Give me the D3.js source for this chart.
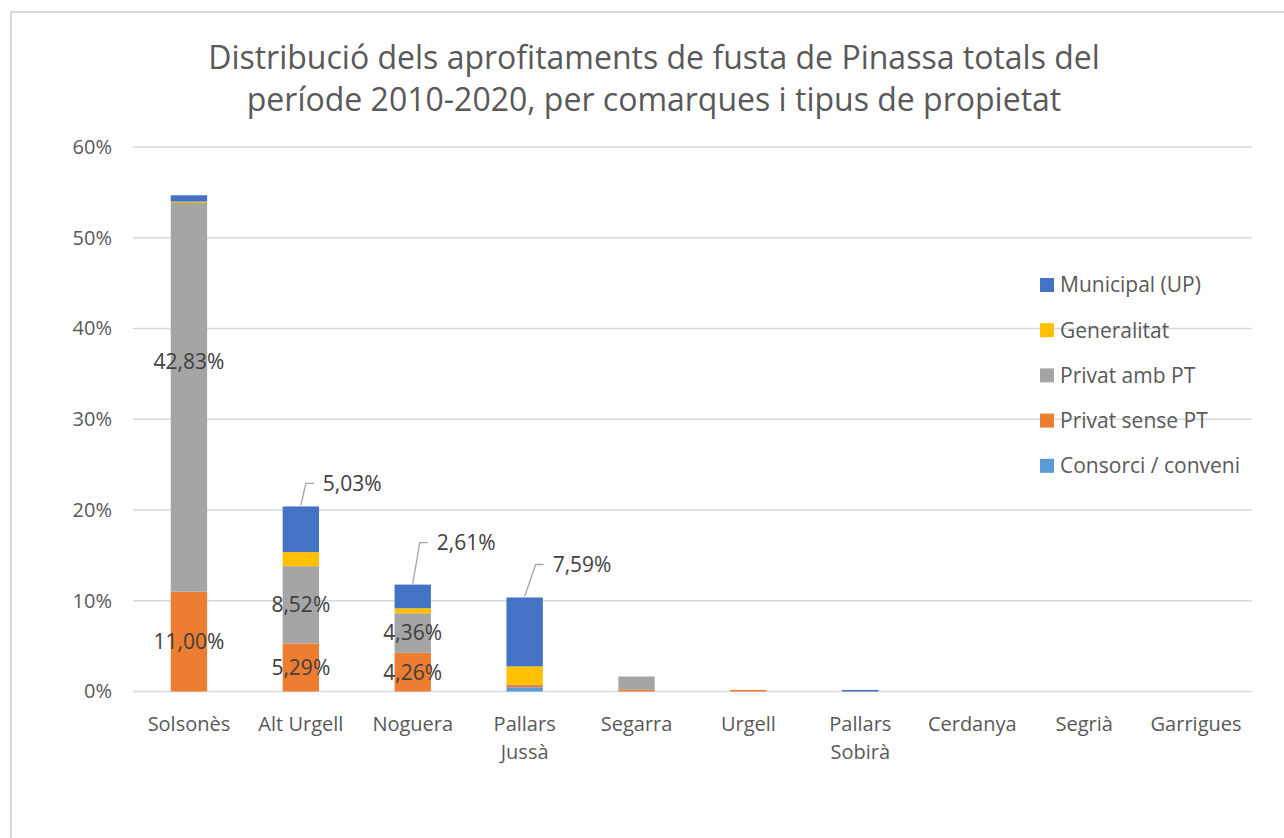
<!DOCTYPE html>
<html>
<head>
<meta charset="utf-8">
<script src="https://cdn.jsdelivr.net/npm/d3@7"></script>
<style>
  body { margin: 0; background: #fff; }
  text { font-family: "Open Sans", "Noto Sans", sans-serif; }
</style>
</head>
<body>
<svg id="chart" width="1284" height="838"></svg>
<script>
// comarques (x axis)
const categories = ["Solsonès", "Alt Urgell", "Noguera", "Pallars Jussà", "Segarra",
    "Urgell", "Pallars Sobirà", "Cerdanya", "Segrià", "Garrigues"];

// series, bottom to top of each stack (% of total)
const seriesNames = ["Consorci / conveni", "Privat sense PT", "Privat amb PT", "Generalitat", "Municipal (UP)"];
const consorci    = [0,     0,    0,    0.47, 0,    0,    0,    0, 0, 0];
const privatSense = [11.00, 5.29, 4.26, 0.30, 0.20, 0.17, 0,    0, 0, 0];
const privatAmb   = [42.83, 8.52, 4.36, 0,    1.45, 0,    0,    0, 0, 0];
const generalitat = [0.15,  1.55, 0.55, 2.00, 0,    0,    0,    0, 0, 0];
const municipal   = [0.70,  5.03, 2.61, 7.59, 0,    0,    0.17, 0, 0, 0];

const yTicks = [0, 10, 20, 30, 40, 50, 60];
const legendOrder = ["Municipal (UP)", "Generalitat", "Privat amb PT", "Privat sense PT", "Consorci / conveni"];

const titleLines = ["Distribució dels aprofitaments de fusta de Pinassa totals del",
    "període 2010-2020, per comarques i tipus de propietat"];

const colors = {
    "Consorci / conveni": "#5B9BD5",
    "Privat sense PT": "#ED7D31",
    "Privat amb PT": "#A5A5A5",
    "Generalitat": "#FFC000",
    "Municipal (UP)": "#4472C4"
};

// which series get labels on which bars
const labelled = {
    "Privat sense PT": [0, 1, 2],
    "Privat amb PT": [0, 1, 2],
    "Municipal (UP)": [1, 2, 3]
};

let seriesValues = [consorci, privatSense, privatAmb, generalitat, municipal];

let rows = categories.map((c, i) => {
    let r = {cat: c};
    seriesNames.forEach((s, j) => r[s] = seriesValues[j][i]);
    return r;
});

let svg = d3.select("#chart");
const textCol = "#595959";

// chart frame
svg.append("rect")
    .attr("x", 11).attr("y", 12)
    .attr("width", 1300).attr("height", 850)
    .attr("fill", "none")
    .attr("stroke", "#d9d9d9")
    .attr("stroke-width", 2);

let x = d3.scaleBand().domain(categories).range([133, 1252]);
let y = d3.scaleLinear().domain([0, 60]).range([691.5, 147]);
let barW = x.bandwidth() * 0.325;

// title
svg.append("g").selectAll("text")
    .data(titleLines).enter().append("text")
    .attr("x", 654)
    .attr("y", (d, i) => 69 + i * 42)
    .attr("text-anchor", "middle")
    .attr("font-size", 32)
    .attr("fill", textCol)
    .text(d => d);

// gridlines
svg.append("g").selectAll("line")
    .data(yTicks).enter().append("line")
    .attr("x1", 133).attr("x2", 1252)
    .attr("y1", d => y(d)).attr("y2", d => y(d))
    .attr("stroke", "#d9d9d9")
    .attr("stroke-width", 1.5);

// y axis
let yAxis = d3.axisLeft(y).tickValues(yTicks).tickSize(0).tickPadding(0)
    .tickFormat(d => d + "%");
let yg = svg.append("g").attr("transform", "translate(112,0)").call(yAxis);
yg.select(".domain").remove();
yg.selectAll("text").attr("font-size", 20).attr("fill", textCol)
    .attr("font-family", "'Open Sans', sans-serif");

// stacked bars
let stack = d3.stack().keys(seriesNames);
let stacked = stack(rows);

let layers = svg.append("g").selectAll("g")
    .data(stacked).enter().append("g")
    .attr("fill", d => colors[d.key]);

layers.selectAll("rect")
    .data(d => d).enter().append("rect")
    .attr("x", d => x(d.data.cat) + (x.bandwidth() - barW) / 2)
    .attr("y", d => y(d[1]))
    .attr("width", barW)
    .attr("height", d => y(d[0]) - y(d[1]));

// x axis labels (wrapped to the band)
let xg = svg.append("g");
categories.forEach(c => {
    let words = c.split(" ");
    let lines = c.length > 11 ? words : [c];
    let t = xg.append("text")
        .attr("x", x(c) + x.bandwidth() / 2)
        .attr("y", 731)
        .attr("text-anchor", "middle")
        .attr("font-size", 20)
        .attr("fill", textCol);
    lines.forEach((l, k) => {
        t.append("tspan")
            .attr("x", x(c) + x.bandwidth() / 2)
            .attr("dy", k === 0 ? 0 : 28)
            .text(l);
    });
});

// data labels
let fmt = v => v.toFixed(2).replace(".", ",") + "%";
let labelG = svg.append("g");

stacked.forEach(layer => {
    let idx = labelled[layer.key];
    if (!idx) return;
    idx.forEach(i => {
        let d = layer[i];
        let cx = x(d.data.cat) + x.bandwidth() / 2;
        if (layer.key === "Municipal (UP)") {
            // callout labels above the bar with a leader line
            let offs = {1: [22, -23], 2: [24, -42], 3: [28, -33]}[i];
            let topY = y(d[1]);
            let tx = cx + offs[0], ty = topY + offs[1];
            labelG.append("polyline")
                .attr("points", [[cx, topY - 1], [tx - 17, ty], [tx - 9, ty]].map(p => p.join(",")).join(" "))
                .attr("fill", "none")
                .attr("stroke", "#a6a6a6")
                .attr("stroke-width", 1.3);
            labelG.append("text")
                .attr("x", tx).attr("y", ty)
                .attr("dy", "0.35em")
                .attr("font-size", 21)
                .attr("fill", "#404040")
                .text(fmt(d.data[layer.key]));
        } else {
            let cy = (y(d[0]) + y(d[1])) / 2;
            // the big Solsonès label sits higher in the segment
            if (layer.key === "Privat amb PT" && i === 0) cy -= 36;
            labelG.append("text")
                .attr("x", cx).attr("y", cy)
                .attr("dy", "0.35em")
                .attr("text-anchor", "middle")
                .attr("font-size", 21)
                .attr("fill", "#404040")
                .text(fmt(d.data[layer.key]));
        }
    });
});

// legend
let lg = svg.append("g").attr("transform", "translate(1040,285)");
let items = lg.selectAll("g").data(legendOrder).enter().append("g")
    .attr("transform", (d, i) => "translate(0," + i * 45.2 + ")");
items.append("rect")
    .attr("x", 0).attr("y", -7)
    .attr("width", 14).attr("height", 14)
    .attr("fill", d => colors[d]);
items.append("text")
    .attr("x", 20).attr("y", 0)
    .attr("dy", "0.35em")
    .attr("font-size", 21)
    .attr("fill", textCol)
    .text(d => d);
</script>
</body>
</html>
